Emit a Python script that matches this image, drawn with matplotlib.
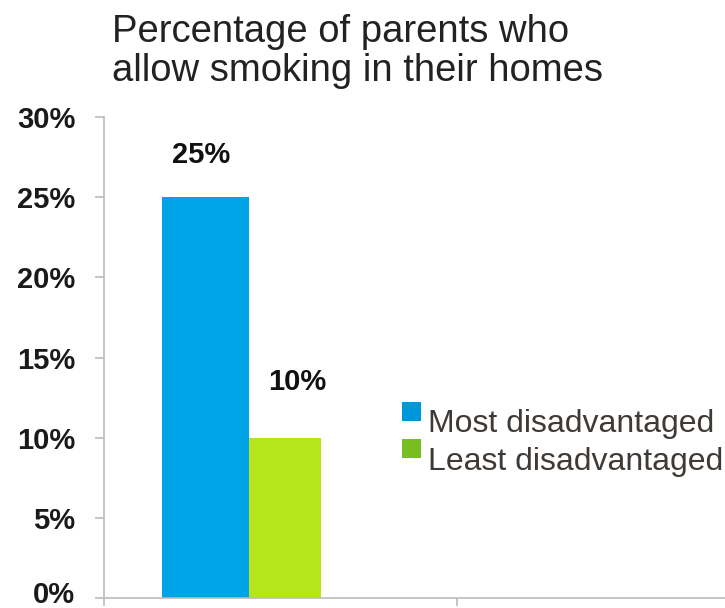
import matplotlib.pyplot as plt
import matplotlib.transforms as mtransforms
from matplotlib.patches import Rectangle

plt.rcParams['font.family'] = ['Liberation Sans', 'DejaVu Sans']

# data
groups = ['Most disadvantaged', 'Least disadvantaged']
values = [25, 10]
labels = ['25%', '10%']
bar_colors = ['#00A3E6', '#B5E61D']
legend_colors = ['#0096DA', '#78BE21']
yticks = [0, 5, 10, 15, 20, 25, 30]

fig = plt.figure(figsize=(7.25, 6.08), dpi=100)
ax = fig.add_axes([0.1434, 0.0164, 0.8566, 0.7912])

# bars sit inside the first category slot (0..1)
lefts = [0.164, 0.411]
widths = [0.247, 0.204]
bars = ax.bar(lefts, values, width=widths, align='edge', color=bar_colors)

# label placement tweaks (offsets above bar, horizontal nudge)
lab_dy = [2.6, 3.5]
lab_dx = [-0.013, 0.034]
for b, lab, dy, dx in zip(bars, labels, lab_dy, lab_dx):
    ax.text(b.get_x() + b.get_width() / 2 + dx, b.get_height() + dy, lab,
            ha='center', va='center', fontsize=21, fontweight='bold', color='#111111')

ax.set_xlim(0, 1.76)
ax.set_ylim(0, 30)
ax.set_yticks(yticks)
ax.set_yticklabels([f'{v}%' for v in yticks], fontsize=21, fontweight='bold', color='#1a1a1a')
ax.set_xticks([0, 1])
ax.set_xticklabels([])

for s in ['top', 'right']:
    ax.spines[s].set_visible(False)
for s in ['left', 'bottom']:
    ax.spines[s].set_color('#BBBBBB')
    ax.spines[s].set_linewidth(1.2)
ax.tick_params(axis='y', length=6.5, width=1.2, color='#BBBBBB', pad=14)
ax.tick_params(axis='x', length=6, width=1.2, color='#BBBBBB')

# the 0% label sits a touch higher so it stays inside the picture
zero_lab = ax.get_yticklabels()[0]
zero_lab.set_transform(zero_lab.get_transform() +
                       mtransforms.ScaledTranslation(0, 4 / 72, fig.dpi_scale_trans))

fig.text(0.155, 0.977, 'Percentage of parents who\nallow smoking in their homes',
         fontsize=27.5, color='#222222', ha='left', va='top', linespacing=1.12)

# legend drawn as squares + text, squares sit slightly above the text
sq_y = [0.368, 0.291]
txt_y = [0.345, 0.266]
for name, c, sy, ty in zip(groups, legend_colors, sq_y, txt_y):
    ax.add_patch(Rectangle((0.480, sy), 0.0306, 0.039, transform=ax.transAxes,
                           facecolor=c, edgecolor='none', clip_on=False))
    ax.text(0.5217, ty, name, transform=ax.transAxes, fontsize=23,
            color='#3F3A36', ha='left', va='baseline')

fig.savefig('out.png', dpi=100)
